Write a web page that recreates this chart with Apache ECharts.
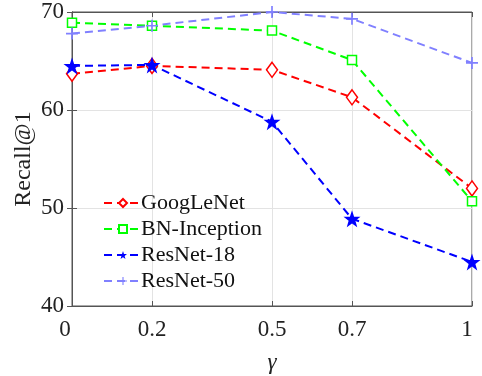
<!DOCTYPE html>
<html>
<head>
<meta charset="utf-8">
<script src="https://cdn.jsdelivr.net/npm/echarts@6/dist/echarts.min.js"></script>
<style>
  html, body { margin: 0; padding: 0; background: #fff; }
  #chart { width: 482px; height: 376px; }
</style>
</head>
<body>
<div id="chart"></div>
<script>
// gamma values on the x axis
const gammas = [0, 0.2, 0.5, 0.7, 1];
const xTicks = [0, 0.2, 0.5, 0.7, 1];
const googlenet = [63.7, 64.5, 64.1, 61.3, 52.0];
const bnInception = [68.9, 68.6, 68.1, 65.1, 50.7];
const resnet18 = [64.5, 64.6, 58.8, 48.9, 44.5];
const resnet50 = [67.8, 68.6, 70.0, 69.3, 64.8];

const chart = echarts.init(document.getElementById("chart"));
const FONT = "Liberation Serif";
const axisColor = "#555";

function pairs(ys) {
  return gammas.map((g, i) => [g, ys[i]]);
}

// 虚线 + 标记
function mkSeries(name, data, color, symbol, size, filled) {
  return {
    name: name,
    type: "line",
    data: pairs(data),
    symbol: symbol,
    symbolSize: size,
    showAllSymbol: true,
    lineStyle: { color: color, width: 2, type: [8, 5] },
    itemStyle: {
      color: filled ? color : "#fff",
      borderColor: color,
      borderWidth: filled ? 0 : 1.5,
    },
    emphasis: { disabled: true },
    z: 3,
  };
}

const plusPath = "path://M4.3,0H5.7V4.3H10V5.7H5.7V10H4.3V5.7H0V4.3H4.3Z";
const starPath = "path://M50,0L61.8,35.1H97.6L68.9,56.9L79.4,91.5L50,70.5L20.6,91.5L31.1,56.9L2.4,35.1H38.2Z";

chart.setOption({
  animation: false,
  textStyle: { fontFamily: FONT },
  grid: {
    left: 72,
    right: 10,
    top: 12,
    bottom: 70,
    outerBoundsMode: "none",
    show: true,
    borderColor: axisColor,
    borderWidth: 1,
  },
  legend: {
    orient: "vertical",
    left: 98,
    top: 187,
    itemWidth: 38,
    itemHeight: 10,
    itemGap: 4,
    textStyle: { fontFamily: FONT, fontSize: 22, color: "#111", padding: [0, 0, 0, -6] },
    data: ["GoogLeNet", "BN-Inception", "ResNet-18", "ResNet-50"],
  },
  xAxis: [
    {
      type: "value",
      min: 0,
      max: 1,
      name: "γ",
      nameLocation: "middle",
      nameGap: 45,
      nameMoveOverlap: false,
      nameTextStyle: { fontFamily: FONT, fontSize: 23, fontStyle: "italic", color: "#222" },
      axisLine: { show: true, lineStyle: { color: axisColor } },
      axisTick: { show: true, inside: true, length: 5, customValues: xTicks, lineStyle: { color: axisColor } },
      axisLabel: {
        customValues: xTicks,
        fontFamily: FONT,
        fontSize: 23,
        color: "#222",
        margin: 12,
        formatter: (v) => (v === 0 ? "{a|0}" : v === 1 ? "{b|1}" : String(v)),
        rich: {
          a: { fontFamily: FONT, fontSize: 23, color: "#222", padding: [0, 14, 0, 0] },
          b: { fontFamily: FONT, fontSize: 23, color: "#222", padding: [0, 10, 0, 0] },
        },
      },
      splitLine: { show: true, lineStyle: { color: "#e3e3e3" } },
    },
    {
      type: "value",
      position: "top",
      min: 0,
      max: 1,
      axisLine: { show: true, lineStyle: { color: axisColor } },
      axisTick: { show: true, inside: true, length: 5, customValues: xTicks, lineStyle: { color: axisColor } },
      axisLabel: { show: false },
      splitLine: { show: false },
    },
  ],
  yAxis: [
    {
      type: "value",
      min: 40,
      max: 70,
      interval: 10,
      name: "Recall@1",
      nameLocation: "middle",
      nameGap: 36,
      nameMoveOverlap: false,
      nameTextStyle: { fontFamily: FONT, fontSize: 24, color: "#222" },
      axisLine: { show: true, lineStyle: { color: axisColor } },
      axisTick: { show: true, inside: true, length: 5, lineStyle: { color: axisColor } },
      axisLabel: { fontFamily: FONT, fontSize: 23, color: "#222", margin: 8 },
      splitLine: { show: true, lineStyle: { color: "#e3e3e3" } },
    },
    {
      type: "value",
      position: "right",
      min: 40,
      max: 70,
      interval: 10,
      axisLine: { show: true, lineStyle: { color: axisColor } },
      axisTick: { show: true, inside: true, length: 5, lineStyle: { color: axisColor } },
      axisLabel: { show: false },
      splitLine: { show: false },
    },
  ],
  series: [
    mkSeries("GoogLeNet", googlenet, "#ff0000", "diamond", [11, 15], false),
    mkSeries("BN-Inception", bnInception, "#00ff00", "rect", 9, false),
    mkSeries("ResNet-18", resnet18, "#0000ff", starPath, 17, true),
    mkSeries("ResNet-50", resnet50, "#8080ff", plusPath, 12, true),
  ],
});
</script>
</body>
</html>
